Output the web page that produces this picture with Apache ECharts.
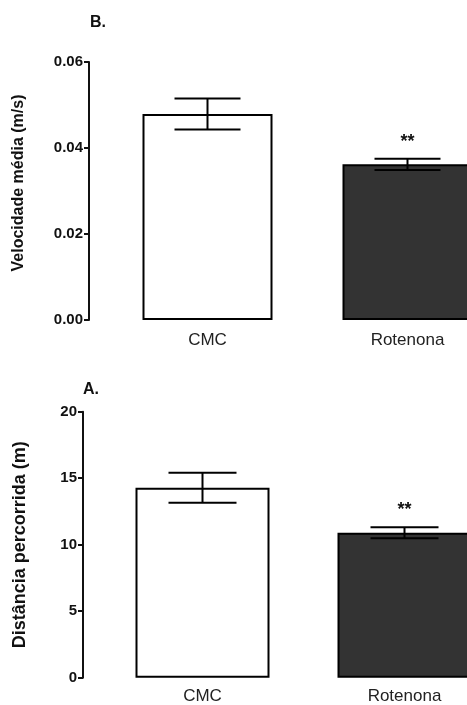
<!DOCTYPE html>
<html>
<head>
<meta charset="utf-8">
<script src="https://cdn.jsdelivr.net/npm/echarts@6/dist/echarts.min.js"></script>
<style>
html,body{margin:0;padding:0;background:#fff;}
#c{width:467px;height:705px;}
</style>
</head>
<body>
<div id="c"></div>
<script>
var categories = ["CMC", "Rotenona"];
var velocidade = [0.0479, 0.0362];
var velocidadeErr = [0.0036, 0.0013];
var distancia = [14.28, 10.9];
var distanciaErr = [1.13, 0.42];
var significance = ["", "**"];
var velTicks = [0, 0.02, 0.04, 0.06];
var distTicks = [0, 5, 10, 15, 20];

var FONT = "'Liberation Sans', Arial, sans-serif";
var barColors = ["#ffffff", "#333333"];

function errData(vals, errs) {
  return vals.map(function (v, i) { return [i, v + errs[i], v - errs[i]]; });
}

function errRender(half, sigGap) {
  return function (params, api) {
    var x = api.value(0);
    var pHi = api.coord([x, api.value(1)]);
    var pLo = api.coord([x, api.value(2)]);
    var st = { stroke: "#000", lineWidth: 2 };
    var children = [
      { type: "line", shape: { x1: pHi[0], y1: pHi[1], x2: pLo[0], y2: pLo[1] }, style: st },
      { type: "line", shape: { x1: pHi[0] - half, y1: pHi[1], x2: pHi[0] + half, y2: pHi[1] }, style: st },
      { type: "line", shape: { x1: pLo[0] - half, y1: pLo[1], x2: pLo[0] + half, y2: pLo[1] }, style: st }
    ];
    var s = significance[params.dataIndex];
    if (s) {
      children.push({
        type: "text", x: pHi[0], y: pHi[1] - sigGap,
        style: { text: s, fontSize: 18, fontWeight: "bold", fontFamily: FONT, fill: "#111", align: "center", verticalAlign: "middle" }
      });
    }
    return { type: "group", children: children };
  };
}

function yAxisCfg(gridIndex, min, max, interval, name, nameSize, nameGap, offset, padding, digits) {
  return {
    type: "value", gridIndex: gridIndex, min: min, max: max, interval: interval,
    offset: offset,
    name: name, nameLocation: "middle", nameGap: nameGap,
    nameTextStyle: { fontSize: nameSize, fontWeight: "bold", color: "#111", fontFamily: FONT, padding: padding },
    axisLine: { show: true, lineStyle: { color: "#111", width: 2 } },
    axisTick: { show: true, length: 5, lineStyle: { color: "#111", width: 2 } },
    axisLabel: { margin: 6, fontSize: 15, fontWeight: "bold", color: "#111", fontFamily: FONT,
      formatter: function (v) { return digits ? v.toFixed(digits) : String(v); } },
    splitLine: { show: false }
  };
}

function xAxisCfg(gridIndex, margin) {
  return {
    type: "category", gridIndex: gridIndex, data: categories, boundaryGap: false,
    axisLine: { show: false }, axisTick: { show: false },
    axisLabel: { margin: margin, fontSize: 17, color: "#222", fontFamily: FONT }
  };
}

function barData(vals) {
  return vals.map(function (v, i) { return { value: v, itemStyle: { color: barColors[i] } }; });
}

var chart = echarts.init(document.getElementById("c"), null, { renderer: "canvas" });
chart.setOption({
  backgroundColor: "#ffffff",
  animation: false,
  title: [
    { text: "B.", left: 85, top: 10, textStyle: { fontSize: 16, fontWeight: "bold", color: "#111", fontFamily: FONT } },
    { text: "A.", left: 78, top: 377, textStyle: { fontSize: 16, fontWeight: "bold", color: "#111", fontFamily: FONT } }
  ],
  grid: [
    { left: 207.5, right: 59.5, top: 62, height: 258 },
    { left: 202.5, right: 62.5, top: 411.7, height: 266 }
  ],
  xAxis: [xAxisCfg(0, 12), xAxisCfg(1, 10)],
  yAxis: [
    yAxisCfg(0, 0, 0.06, 0.02, "Velocidade média (m/s)", 16, 62, 118.5, [0, 0, 0, 16], 2),
    yAxisCfg(1, 0, 20, 5, "Distância percorrida (m)", 18, 54, 119.5, [0, 0, 0, 0], 0)
  ],
  series: [
    { type: "bar", xAxisIndex: 0, yAxisIndex: 0, data: barData(velocidade), barWidth: 130, clip: false,
      itemStyle: { borderColor: "#000", borderWidth: 2 } },
    { type: "custom", xAxisIndex: 0, yAxisIndex: 0, data: errData(velocidade, velocidadeErr),
      renderItem: errRender(33, 17), z: 5, clip: false },
    { type: "bar", xAxisIndex: 1, yAxisIndex: 1, data: barData(distancia), barWidth: 134, clip: false,
      itemStyle: { borderColor: "#000", borderWidth: 2 } },
    { type: "custom", xAxisIndex: 1, yAxisIndex: 1, data: errData(distancia, distanciaErr),
      renderItem: errRender(34, 17), z: 5, clip: false }
  ]
});
</script>
</body>
</html>
